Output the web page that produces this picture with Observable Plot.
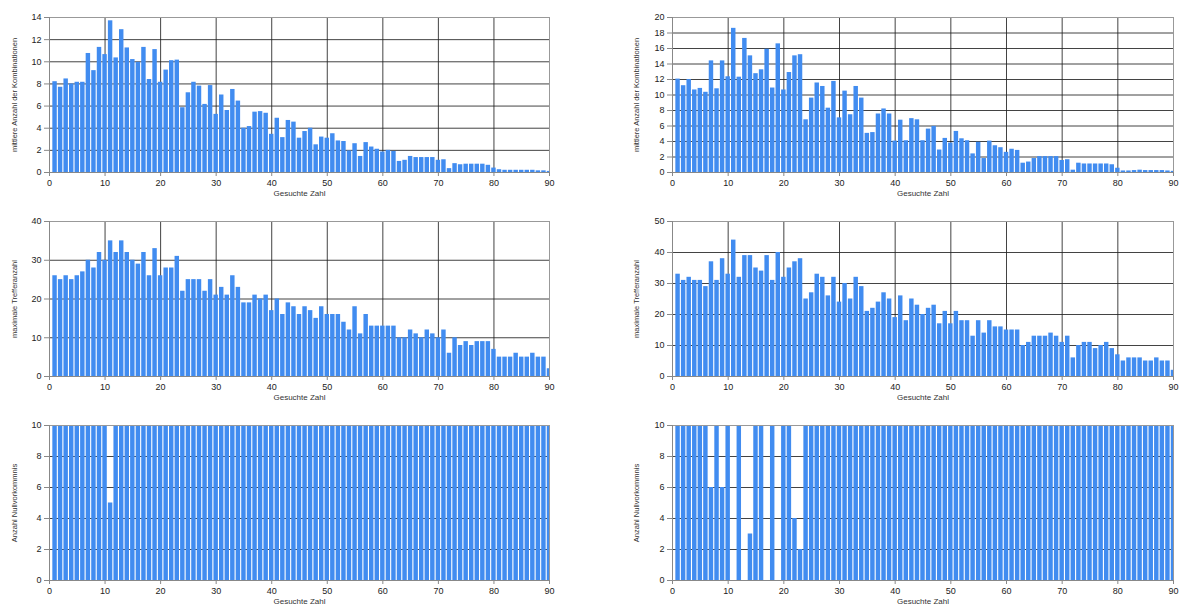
<!DOCTYPE html>
<html>
<head>
<meta charset="utf-8">
<script src="https://cdn.jsdelivr.net/npm/d3@7"></script>
<script src="https://cdn.jsdelivr.net/npm/@observablehq/plot@0.6"></script>
<style>
  html, body { margin: 0; padding: 0; background: #fff; }
  #wrap { position: relative; width: 1182px; height: 608px; overflow: hidden; background: #fff; }
  #wrap svg { position: absolute; }
</style>
</head>
<body>
<div id="wrap"></div>
<script>
// ---- categories ----
const zahlen = [1,2,3,4,5,6,7,8,9,10,11,12,13,14,15,16,17,18,19,20,21,22,23,24,25,26,27,28,29,30,
  31,32,33,34,35,36,37,38,39,40,41,42,43,44,45,46,47,48,49,50,51,52,53,54,55,56,57,58,59,60,
  61,62,63,64,65,66,67,68,69,70,71,72,73,74,75,76,77,78,79,80,81,82,83,84,85,86,87,88,89,90];

// ---- axis ticks / titles ----
const xTicks = [0,10,20,30,40,50,60,70,80,90];
const xTitle = "Gesuchte Zahl";
const titleMittel = "mittlere Anzahl der Kombinationen";
const titleMax = "maximale Trefferanzahl";
const titleNull = "Anzahl Nullvorkommnis";
const yTicksMittelLeft = [0,2,4,6,8,10,12,14];
const yTicksMittelRight = [0,2,4,6,8,10,12,14,16,18,20];
const yTicksMaxLeft = [0,10,20,30,40];
const yTicksMaxRight = [0,10,20,30,40,50];
const yTicksNull = [0,2,4,6,8,10];

// ---- left column series ----
const mittelLeft = [8.2,7.7,8.45,8.0,8.15,8.15,10.75,9.2,11.3,10.65,
  13.7,10.35,12.9,11.25,10.2,9.95,11.3,8.4,11.1,8.15,
  9.25,10.1,10.15,5.85,7.2,8.15,7.8,6.15,7.85,5.25,
  7.0,5.6,7.5,6.45,4.0,4.15,5.45,5.5,5.35,3.45,
  4.9,3.15,4.7,4.55,3.1,3.7,4.0,2.5,3.2,3.1,
  3.5,2.85,2.8,1.95,2.6,1.45,2.7,2.3,2.1,1.85,
  2.0,1.9,1.0,1.1,1.45,1.35,1.35,1.35,1.35,1.1,
  1.15,0.35,0.8,0.7,0.75,0.75,0.75,0.75,0.65,0.4,
  0.25,0.2,0.2,0.2,0.2,0.2,0.2,0.15,0.15,0.1];
const maxLeft = [26,25,26,25,26,27,30,28,32,30,
  35,32,35,32,30,29,32,26,33,26,
  28,28,31,22,25,25,25,22,25,21,
  23,21,26,23,19,19,21,20,21,17,
  20,16,19,18,16,18,17,15,18,16,
  16,16,14,12,18,11,16,13,13,13,
  13,13,10,10,12,11,10,12,11,10,
  12,6,10,8,9,8,9,9,9,7,
  5,5,5,6,5,5,6,5,5,2];
const nullLeft = [10,10,10,10,10,10,10,10,10,10,
  5,10,10,10,10,10,10,10,10,10,
  10,10,10,10,10,10,10,10,10,10,
  10,10,10,10,10,10,10,10,10,10,
  10,10,10,10,10,10,10,10,10,10,
  10,10,10,10,10,10,10,10,10,10,
  10,10,10,10,10,10,10,10,10,10,
  10,10,10,10,10,10,10,10,10,10,
  10,10,10,10,10,10,10,10,10,10];

// ---- right column series ----
const mittelRight = [12.05,11.2,12.0,10.65,10.85,10.35,14.4,10.8,14.4,12.35,
  18.6,12.3,17.3,15.05,12.75,13.25,15.9,10.9,16.6,10.65,
  12.9,15.05,15.2,6.8,9.6,11.55,11.1,8.3,11.75,7.05,
  10.5,7.45,11.1,9.6,5.05,5.15,7.55,8.2,7.55,4.05,
  6.75,4.1,6.95,6.8,4.1,5.6,5.95,2.9,4.4,3.8,
  5.3,4.35,4.1,2.4,3.9,1.8,4.05,3.45,3.2,2.6,
  3.0,2.85,1.2,1.35,1.8,2.05,2.05,2.05,2.05,1.55,
  1.65,0.3,1.2,1.1,1.1,1.1,1.1,1.1,1.0,0.55,
  0.2,0.2,0.25,0.3,0.25,0.25,0.25,0.25,0.2,0.15];
const maxRight = [33,31,32,31,31,29,37,31,38,33,
  44,32,39,39,35,34,39,31,40,32,
  35,37,38,25,27,33,32,26,32,24,
  30,25,32,29,21,22,24,27,25,19,
  26,18,25,23,20,22,23,17,21,17,
  21,18,18,13,18,14,18,16,16,15,
  15,15,10,11,13,13,13,14,13,11,
  13,6,10,11,11,9,10,11,9,7,
  5,6,6,6,5,5,6,5,5,2];
const nullRight = [10,10,10,10,10,10,6,10,6,10,
  0,10,0,3,10,10,0,10,0,10,
  10,4,2,10,10,10,10,10,10,10,
  10,10,10,10,10,10,10,10,10,10,
  10,10,10,10,10,10,10,10,10,10,
  10,10,10,10,10,10,10,10,10,10,
  10,10,10,10,10,10,10,10,10,10,
  10,10,10,10,10,10,10,10,10,10,
  10,10,10,10,10,10,10,10,10,10];

const barColor = "#418CF0";
const wrap = document.getElementById("wrap");

function panel(values, yTicks, yTitle, opts) {
  const data = zahlen.map((x, i) => ({x, y: values[i]}));
  const yMax = yTicks[yTicks.length - 1];
  const svg = Plot.plot({
    width: opts.width,
    height: 204,
    marginLeft: opts.marginLeft,
    marginRight: opts.marginRight,
    marginTop: 17,
    marginBottom: 32,
    style: {fontFamily: "'Liberation Sans', Arial, sans-serif", fontSize: "9px", background: "#fff", color: "#222"},
    x: {domain: [0, 90]},
    y: {domain: [0, yMax]},
    marks: [
      Plot.gridX(xTicks, {stroke: "#222", strokeOpacity: 0.85}),
      Plot.gridY(yTicks, {stroke: "#222", strokeOpacity: 0.85}),
      Plot.rectY(data, {x1: d => d.x - 0.4, x2: d => d.x + 0.4, y: "y", fill: barColor, clip: true}),
      Plot.frame({stroke: "#999"}),
      Plot.axisX({ticks: xTicks, tickSize: 4, tickPadding: 3, label: null, stroke: "#888"}),
      Plot.axisY({ticks: yTicks, tickSize: 5, tickPadding: 3, label: null, stroke: "#888"}),
      Plot.ruleX([0], {stroke: "#888"}),
      Plot.ruleY([0], {stroke: "#888"}),
      Plot.text([yTitle], {frameAnchor: "left", textAnchor: "middle", rotate: -90, dx: -opts.titleOffset, fontSize: 7.5, fill: "#333"}),
      Plot.text([xTitle], {frameAnchor: "bottom", textAnchor: "middle", dy: 23, fontSize: 8, fill: "#333"})
    ]
  });
  svg.style.left = opts.left + "px";
  svg.style.top = opts.top + "px";
  wrap.appendChild(svg);
}

const leftOpts = {left: 0, width: 560, marginLeft: 49, marginRight: 11, titleOffset: 35};
const rightOpts = {left: 612, width: 570, marginLeft: 60, marginRight: 9, titleOffset: 36};

panel(mittelLeft, yTicksMittelLeft, titleMittel, {...leftOpts, top: 0});
panel(maxLeft, yTicksMaxLeft, titleMax, {...leftOpts, top: 204});
panel(nullLeft, yTicksNull, titleNull, {...leftOpts, top: 408});
panel(mittelRight, yTicksMittelRight, titleMittel, {...rightOpts, top: 0});
panel(maxRight, yTicksMaxRight, titleMax, {...rightOpts, top: 204});
panel(nullRight, yTicksNull, titleNull, {...rightOpts, top: 408});
</script>
</body>
</html>
